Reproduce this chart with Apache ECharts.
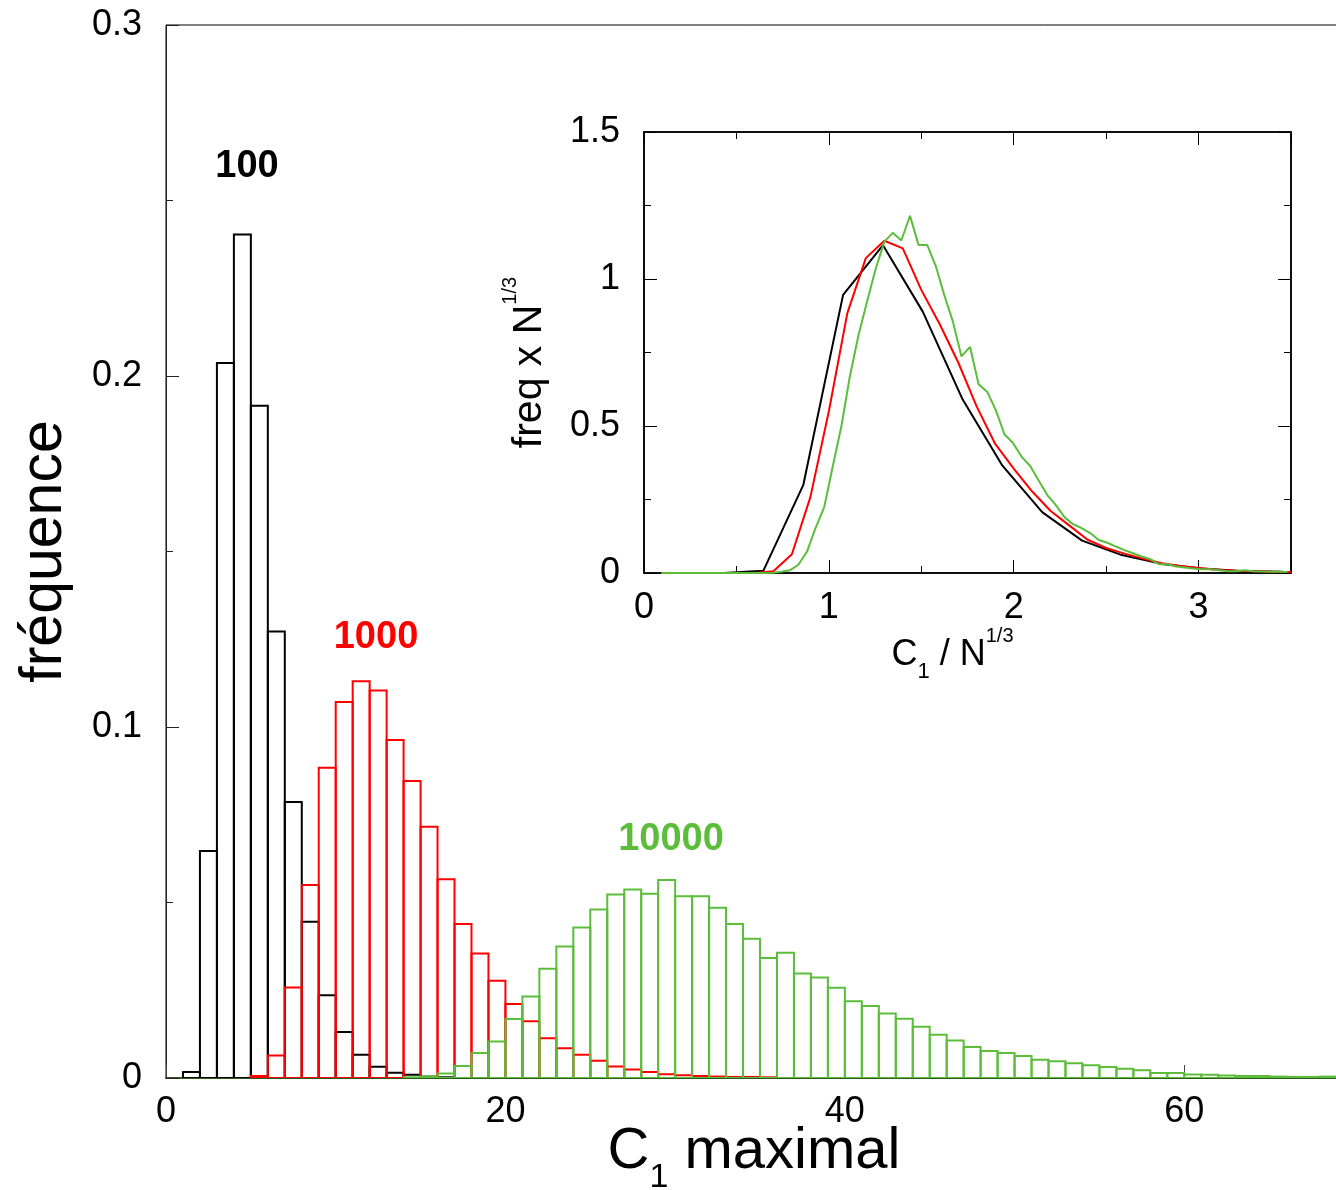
<!DOCTYPE html>
<html><head><meta charset="utf-8">
<script src="https://cdn.jsdelivr.net/npm/echarts@6/dist/echarts.min.js"></script>
<style>html,body{margin:0;padding:0;background:#fff}#c{width:1336px;height:1190px}</style>
</head><body><div id="c"></div><script>
// ---- main histogram: left edge of each C1 bin (bin width 1) ----
const binLeft = [0,1,2,3,4,5,6,7,8,9,10,11,12,13,14,15,16,17,18,19,20,21,22,23,24,25,26,27,28,29,30,31,32,33,34,35,36,37,38,39,40,41,42,43,44,45,46,47,48,49,50,51,52,53,54,55,56,57,58,59,60,61,62,63,64,65,66,67,68];
const binWidth = 1;
// frequencies, N = 100
const freq100 = [0,0.0017,0.0647,0.2037,0.2403,0.1915,0.1272,0.0786,0.0445,0.0236,0.0131,0.0066,0.0032,0.0015,0.0009,0.0004,0.0002,
  0,0,0,0,0,0,0,0,0,0,0,0,0,0,0,0,0,0,0,0,0,0,0,0,0,0,0,0,0,0,0,0,0,0,0,0,0,0,0,0,0,0,0,0,0,0,0,0,0,0,0,0,0];
// frequencies, N = 1000
const freq1000 = [0,0,0,0,0,0.0006,0.0064,0.0258,0.0550,0.0884,0.1071,0.1130,0.1104,0.0963,0.0846,0.0716,0.0566,0.0439,0.0355,0.0277,0.0211,0.0162,0.0113,0.0085,0.0066,0.0049,0.0033,0.0024,0.0017,0.0011,0.0008,0.0006,0.0004,0.0003,0.0003,0.0002,
  0,0,0,0,0,0,0,0,0,0,0,0,0,0,0,0,0,0,0,0,0,0,0,0,0,0,0,0,0,0,0,0,0];
// frequencies, N = 10000
const freq10000 = [0,0,0,0,0,0,0,0,0,0,0,0,0,0,0.0002,0.0004,0.0013,0.0034,0.0071,0.0104,0.0168,0.0232,0.0311,0.0375,0.0429,0.0480,0.0523,0.0537,0.0525,0.0564,0.0518,0.0518,0.0485,0.0439,0.0397,0.0342,0.0357,0.0298,0.0286,0.0257,0.0219,0.0205,0.0184,0.0169,0.0146,0.0123,0.0107,0.0088,0.0077,0.0071,0.0063,0.0052,0.0048,0.0042,0.0036,0.0031,0.0026,0.0022,0.0014,0.0014,0.0010,0.0009,0.0007,0.0006,0.0006,0.0004,0.0003,0.0003,0.0004];

// ---- inset: [C1 / N^(1/3), freq x N^(1/3)] ----
const scaled100 = [[0.215,0],[0.431,0],[0.646,0.008],[0.862,0.300],[1.077,0.946],[1.293,1.115],[1.508,0.889],[1.724,0.590],[1.939,0.365],[2.154,0.207],[2.370,0.110],[2.585,0.061],[2.801,0.031],[3.016,0.015],[3.232,0.007],[3.447,0.004],[3.662,0.002]];
const scaled1000 = [[0.2,0],[0.3,0],[0.4,0],[0.5,0],[0.6,0],[0.7,0.006],[0.8,0.064],[0.9,0.258],[1.0,0.550],[1.1,0.884],[1.2,1.071],[1.3,1.130],[1.4,1.104],[1.5,0.963],[1.6,0.846],[1.7,0.716],[1.8,0.566],[1.9,0.439],[2.0,0.355],[2.1,0.277],[2.2,0.211],[2.3,0.162],[2.4,0.113],[2.5,0.085],[2.6,0.066],[2.7,0.049],[2.8,0.033],[2.9,0.024],[3.0,0.017],[3.1,0.011],[3.2,0.008],[3.3,0.006],[3.4,0.004],[3.5,0.003]];
const scaled10000 = [[0.093,0],[0.650,0],[0.696,0.001],[0.743,0.004],[0.789,0.009],[0.835,0.028],[0.882,0.073],[0.928,0.153],[0.975,0.224],[1.021,0.362],[1.068,0.500],[1.114,0.670],[1.160,0.808],[1.207,0.924],[1.253,1.034],[1.300,1.127],[1.346,1.157],[1.392,1.131],[1.439,1.215],[1.485,1.116],[1.532,1.116],[1.578,1.045],[1.624,0.946],[1.671,0.855],[1.717,0.737],[1.764,0.769],[1.810,0.642],[1.857,0.616],[1.903,0.554],[1.950,0.472],[1.996,0.442],[2.042,0.396],[2.089,0.364],[2.135,0.315],[2.182,0.265],[2.228,0.231],[2.275,0.190],[2.321,0.166],[2.367,0.153],[2.414,0.136],[2.460,0.112],[2.507,0.103],[2.553,0.090],[2.599,0.078],[2.646,0.067],[2.692,0.056],[2.739,0.047],[2.785,0.030],[2.832,0.030],[2.878,0.022],[2.924,0.019],[2.971,0.015],[3.017,0.013],[3.064,0.013],[3.110,0.009],[3.156,0.006],[3.203,0.006],[3.249,0.009],[3.296,0.006],[3.342,0.005],[3.388,0.004],[3.435,0.005],[3.481,0.003]];

const mainXTicks = [0,20,40,60];
const insetLabels = ['100','1000','10000'];

const FONT = '"Liberation Sans", Arial, Helvetica, sans-serif';
const BLACK = '#000000', RED = '#ff0000', GREEN = '#5bbd3a';

function histData(freq){
  const out = [];
  binLeft.forEach((b,i)=>{ if (freq[i] > 0) out.push([b, b + binWidth, freq[i]]); });
  return out;
}
function histSeries(name, freq, color){
  return {
    name, type:'custom', xAxisIndex:0, yAxisIndex:0, clip:true,
    encode:{x:[0,1], y:2},
    data: histData(freq),
    renderItem(params, api){
      const p0 = api.coord([api.value(0), api.value(2)]);
      const p1 = api.coord([api.value(1), 0]);
      return { type:'rect',
        shape:{x:p0[0], y:p0[1], width:p1[0]-p0[0], height:p1[1]-p0[1]},
        style:{fill:'none', stroke:color, lineWidth:2} };
    }
  };
}
function lineSeries(name, data, color){
  return { name, type:'line', xAxisIndex:1, yAxisIndex:1, data, showSymbol:false, symbol:'none',
    lineStyle:{color, width:2}, itemStyle:{color}, animation:false };
}

const chart = echarts.init(document.getElementById('c'), null, {renderer:'canvas'});
const tickFont = {fontFamily:FONT, fontSize:36, color:'#000'};
chart.setOption({
  animation:false,
  backgroundColor:'#fff',
  grid:[
    {left:166, top:25, width:1188, height:1053, outerBoundsMode:'none', containLabel:false,
     show:true, borderColor:'#000', borderWidth:1, backgroundColor:'transparent'},
    {left:644, top:132, width:647, height:441, outerBoundsMode:'none', containLabel:false,
     show:true, borderColor:'#000', borderWidth:1.5, backgroundColor:'#fff'}
  ],
  xAxis:[
    {gridIndex:0, type:'value', min:0, max:70, interval:20, position:'bottom',
     axisLine:{show:true, onZero:false, lineStyle:{color:'#2d5b1f', width:2}},
     axisTick:{show:true, inside:true, length:13, lineStyle:{color:'#444'}},
     minorTick:{show:true, splitNumber:2, length:7, lineStyle:{color:'#444'}},
     splitLine:{show:false},
     axisLabel:Object.assign({margin:16, formatter:v=>mainXTicks.includes(v)?String(v):''}, tickFont),
     name:'{t|C}{s|1}{t| maximal}', nameLocation:'middle', nameGap:45, nameMoveOverlap:false,
     nameTextStyle:{padding:[0,12,0,0], rich:{
       t:{fontFamily:FONT, fontSize:58, color:'#000', verticalAlign:'top'},
       s:{fontFamily:FONT, fontSize:34, color:'#000', verticalAlign:'top', padding:[38,0,0,0]}}}},
    {gridIndex:1, type:'value', min:0, max:3.5, interval:1, position:'bottom',
     axisLine:{show:true, onZero:false, lineStyle:{color:'#000', width:1.5}},
     axisTick:{show:true, inside:true, length:13, lineStyle:{color:'#000'}},
     minorTick:{show:true, splitNumber:2, length:7, lineStyle:{color:'#000'}},
     splitLine:{show:false},
     axisLabel:Object.assign({margin:17, showMaxLabel:false}, tickFont),
     name:'{t|C}{s|1}{t| / N}{p|1/3}', nameLocation:'middle', nameGap:53,
     nameTextStyle:{padding:[0,30,0,0], rich:{
       t:{fontFamily:FONT, fontSize:36, lineHeight:56, color:'#000', verticalAlign:'middle'},
       s:{fontFamily:FONT, fontSize:22, lineHeight:26, color:'#000', verticalAlign:'bottom'},
       p:{fontFamily:FONT, fontSize:20, lineHeight:22, color:'#000', verticalAlign:'top'}}}},
    {gridIndex:1, type:'value', min:0, max:3.5, interval:1, position:'top',
     axisLine:{show:true, onZero:false, lineStyle:{color:'#000', width:1.5}},
     axisTick:{show:true, inside:true, length:13, lineStyle:{color:'#000'}},
     minorTick:{show:true, splitNumber:2, length:7, lineStyle:{color:'#000'}},
     splitLine:{show:false}, axisLabel:{show:false}}
  ],
  yAxis:[
    {gridIndex:0, type:'value', min:0, max:0.3, interval:0.1, position:'left',
     axisLine:{show:true, onZero:false, lineStyle:{color:'#222', width:1}},
     axisTick:{show:true, inside:true, length:13, lineStyle:{color:'#222'}},
     minorTick:{show:true, splitNumber:2, length:7, lineStyle:{color:'#222'}},
     splitLine:{show:false},
     axisLabel:Object.assign({margin:24}, tickFont),
     name:'fréquence', nameLocation:'middle', nameGap:92, nameRotate:90,
     nameTextStyle:{fontFamily:FONT, fontSize:59, color:'#000'}},
    {gridIndex:1, type:'value', min:0, max:1.5, interval:0.5, position:'left',
     axisLine:{show:true, onZero:false, lineStyle:{color:'#000', width:1.5}},
     axisTick:{show:true, inside:true, length:13, lineStyle:{color:'#000'}},
     minorTick:{show:true, splitNumber:2, length:7, lineStyle:{color:'#000'}},
     splitLine:{show:false},
     axisLabel:Object.assign({margin:24}, tickFont),
     name:'{t|freq x N}{p|1/3}', nameLocation:'middle', nameGap:94, nameRotate:90,
     nameTextStyle:{padding:[0,20,0,0], rich:{
       t:{fontFamily:FONT, fontSize:41, lineHeight:50, color:'#000', verticalAlign:'bottom'},
       p:{fontFamily:FONT, fontSize:20, lineHeight:14, color:'#000', verticalAlign:'top'}}}},
    {gridIndex:1, type:'value', min:0, max:1.5, interval:0.5, position:'right',
     axisLine:{show:true, onZero:false, lineStyle:{color:'#000', width:1.5}},
     axisTick:{show:true, inside:true, length:13, lineStyle:{color:'#000'}},
     minorTick:{show:true, splitNumber:2, length:7, lineStyle:{color:'#000'}},
     splitLine:{show:false}, axisLabel:{show:false}}
  ],
  series:[
    histSeries('100', freq100, BLACK),
    histSeries('1000', freq1000, RED),
    histSeries('10000', freq10000, GREEN),
    lineSeries('100', scaled100, BLACK),
    lineSeries('1000', scaled1000, RED),
    lineSeries('10000', scaled10000, GREEN)
  ],
  graphic:{elements:[
    {type:'text', x:247, y:167, z:10, style:{text:insetLabels[0], font:'bold 38px '+FONT, fill:BLACK, align:'center', verticalAlign:'middle'}},
    {type:'text', x:376, y:638, z:10, style:{text:insetLabels[1], font:'bold 38px '+FONT, fill:RED, align:'center', verticalAlign:'middle'}},
    {type:'text', x:671, y:840, z:10, style:{text:insetLabels[2], font:'bold 38px '+FONT, fill:GREEN, align:'center', verticalAlign:'middle'}}
  ]}
});
</script></body></html>
